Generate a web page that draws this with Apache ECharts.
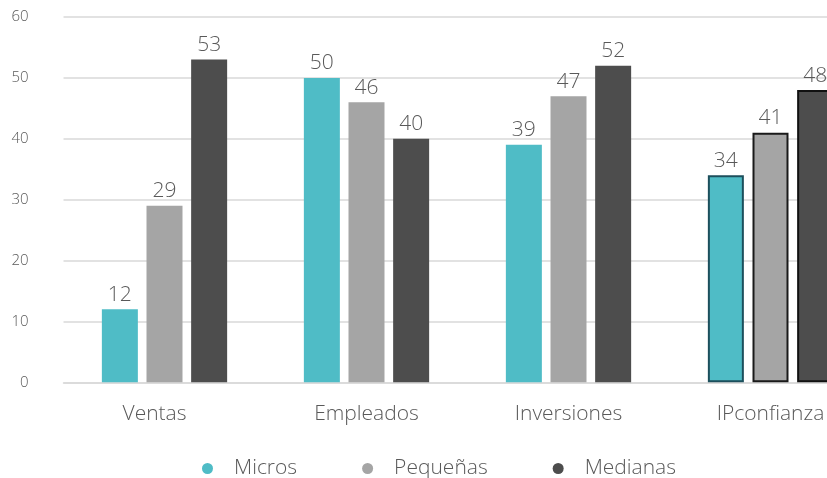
<!DOCTYPE html>
<html>
<head>
<meta charset="utf-8">
<script src="https://cdn.jsdelivr.net/npm/echarts@6/dist/echarts.min.js"></script>
<style>
  html, body { margin: 0; padding: 0; background: #ffffff; }
  #chart { width: 827px; height: 478px; }
</style>
</head>
<body>
<div id="chart"></div>
<script>
// Categories and series values
const categories = ['Ventas', 'Empleados', 'Inversiones', 'IPconfianza'];
const seriesNames = ['Micros', 'Pequeñas', 'Medianas'];
const micros = [12, 50, 39, 34];
const pequenas = [29, 46, 47, 41];
const medianas = [53, 40, 52, 48];
const yTicks = [0, 10, 20, 30, 40, 50, 60];

const colors = ['#4fbcc6', '#a5a5a5', '#4d4d4d'];
const outlineColors = ['#1c4f5c', '#1a1a1a', '#111111'];
const textColor = '#595959';
const fontFamily = '"Open Sans", "Noto Sans", sans-serif';

// The last category is drawn with an outline around each bar
const highlighted = 'IPconfianza';

function buildData(values, idx) {
  return values.map((v, i) => {
    if (categories[i] === highlighted) {
      return {
        value: v,
        itemStyle: { borderColor: outlineColors[idx], borderWidth: 2 }
      };
    }
    return v;
  });
}

const chart = echarts.init(document.getElementById('chart'), null, { renderer: 'canvas' });

const seriesValues = [micros, pequenas, medianas];

const baseText = {
  color: textColor,
  fontSize: 21,
  fontWeight: 300,
  fontFamily: fontFamily
};

// The plot runs past the right edge of the canvas, so the last group is cut off
chart.setOption({
  backgroundColor: '#ffffff',
  animation: false,
  textStyle: { fontFamily: fontFamily },
  grid: {
    left: 63.5, top: 17, width: 808, height: 365.3,
    containLabel: false,
    outerBoundsMode: 'none'
  },
  legend: {
    top: 453,
    left: 197,
    icon: 'circle',
    itemWidth: 11,
    itemHeight: 11,
    itemGap: 65,
    data: seriesNames,
    textStyle: Object.assign({}, baseText, { padding: [0, 0, 0, 16] })
  },
  xAxis: {
    type: 'category',
    data: categories.map((c, i) => i === 0
      ? { value: c, textStyle: { padding: [0, 20, 0, 0] } }
      : c),
    axisLine: { show: true, lineStyle: { color: '#d9d9d9', width: 1.5 } },
    axisTick: { show: false },
    axisLabel: Object.assign({}, baseText, { margin: 21 })
  },
  yAxis: {
    type: 'value',
    min: yTicks[0],
    max: yTicks[yTicks.length - 1],
    interval: 10,
    axisLine: { show: false },
    axisTick: { show: false },
    splitLine: { lineStyle: { color: '#d9d9d9', width: 1.5 } },
    axisLabel: Object.assign({}, baseText, { fontSize: 15, margin: 35 })
  },
  series: seriesNames.map((name, idx) => ({
    name: name,
    type: 'bar',
    barWidth: 36,
    barGap: '24%',
    itemStyle: { color: colors[idx] },
    label: Object.assign({}, baseText, {
      show: true,
      position: 'top',
      distance: 4
    }),
    data: buildData(seriesValues[idx], idx)
  }))
});
</script>
</body>
</html>
